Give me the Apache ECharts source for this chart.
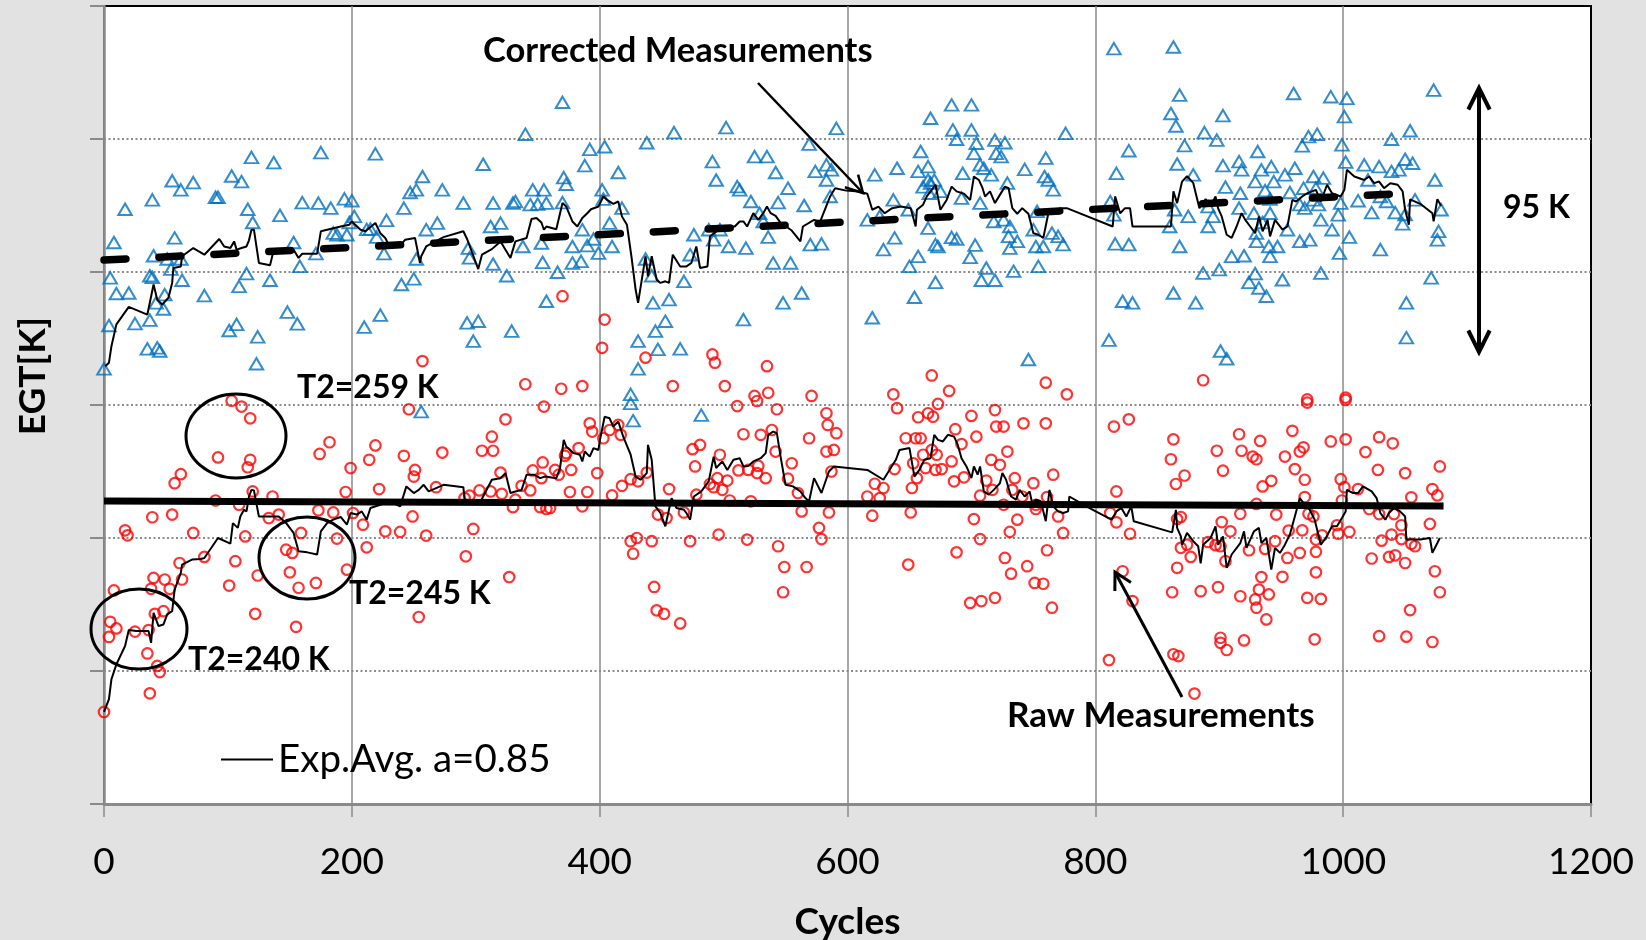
<!DOCTYPE html>
<html>
<head>
<meta charset="utf-8">
<title>EGT vs Cycles</title>
<script src="https://cdn.jsdelivr.net/npm/echarts@6/dist/echarts.min.js"></script>
<style>
  html, body { margin: 0; padding: 0; background: #e2e2e2; }
  #chart { width: 1646px; height: 940px; }
</style>
</head>
<body>
<div id="chart"></div>
<script>
// ---- data: [cycle, EGT in K] ----
const correctedMeas = [
  [8,811.1],[17,823.6],[39,827.1],[55,834.3],[62,830.9],[72,833.6],[57,812.8],[40,806.1],[51,804.9],[62,804.9],[5,797.8],[10,791.9],[20,792.1],[37,798.6],[39,798],[54,801.1],[63,796.9],[49,791.5],[48,786.1],[42,788.4],[4,779.9],[25,780.6],[37,781.9],[35,771.1],[43,771.5],[45,770.3],[0,763.6],[81,791.1],[103,836.1],[111,834],[90,828.1],[92,828.1],[119,843.1],[137,841.1],[116,823.6],[120,818.6],[142,821.3],[153,811.1],[115,799.4],[109,794.6],[134,796.9],[158,802.1],[160,826.1],[173,825.9],[183,824],[175,844.9],[194,827.5],[200,826.8],[202,820.9],[198,818.6],[185,814.6],[188,814],[196,814],[171,806.9],[148,784.9],[156,780.5],[101,778],[107,780.3],[124,775.6],[123,765.5],[210,779.3],[223,783.8],[219,844.4],[212,816],[215,816.1],[220,813.1],[228,819.4],[226,806.9],[242,824],[247,829.9],[252,830.9],[252,804.9],[250,797.4],[240,795.3],
  [257,835.9],[260,815.9],[269,818.4],[273,830.9],[290,825.9],[294,809],[295,805.3],[293,780.9],[302,781.5],[298,774],[306,840.5],[312,817.1],[314,803],[314,825.9],[320,818.4],[325,798.6],[329,777.8],[330,825.9],[332,826.5],[340,851.8],[338,809.6],[344,825.3],[346,830.9],[350,825.5],[353,810.9],[354,803.6],[357,789],[355,830.9],[357,825.9],[366,799.9],[370,863.8],[371,835.5],[373,833],[370,826.1],[378,809.6],[378,803.4],[385,804],[388,840],[392,846.1],[386,815.9],[390,809.9],[395,812.4],[399,807.1],[402,830.9],[404,847.1],[403,827.4],[408,818.4],[410,809.6],[415,837.4],[418,824],[438,848.6],[437,804.9],[443,788.4],[442,798.6],[456,789.6],[453,781.5],[445,777.8],[431,774],[447,770.9],[465,771.1],[431,763.6],[425,754],[460,852.4],[468,796.5],[476,814],[473,806.5],[491,841.5],[494,834.6],[488,815.9],[497,815.9],[492,812.1],[504,809.6],[502,854.3],[518,809],[511,832.1],[513,830.9],[516,782.1],[522,826.5],[525,843.4],[535,843.4],[529,822.1],[532,819],[542,837.4],[540,803.4],[536,813.1],[544,826.1],[548,788.4],[552,831.5],[554,803.4],[563,792.1],[565,825],[569,848.1],[574,837.8],[570,810.3],
  [256,747.5],[425,750.6],[427,744.1],[482,746.2],
  [591,854],[583,840.3],[587,838.4],[583,834.6],[586,828.4],[579,810.6],[622,836.5],[616,819.6],[626,820.9],[620,782.8],[637,827.1],[640,839],[638,812.8],[629,808.4],[649,823.4],[657,837.8],[659,845.3],[665,839.6],[661,832],[665,834.6],[667,833.4],[670,834.6],[666,829.6],[675,830.3],[665,816.5],[657,805.9],[650,802.1],[654,790.5],[671,810.3],[673,809.6],[671,796.1],[667,857.8],[684,862.8],[685,853.4],[688,849.9],[700,862.8],[700,853.4],[704,848.4],[702,844.6],[707,840.3],[710,839],[719,849.6],[727,848.6],[720,844.6],[724,843.4],[716,836.5],[729,833.4],[693,837.1],[692,827.8],[684,813],[688,812.4],[703,810.1],[699,805.5],[707,825.9],[718,819],[726,819.6],[731,817.1],[730,813.4],[737,811.5],[731,809],[712,801.5],[708,796.9],[719,796.9],[734,800.3],[743,838.6],[753,822.8],[760,842.8],[759,835.9],[762,834.6],[766,830.9],[750,815.9],[752,809.6],[758,809.6],[765,814.6],[770,813.4],[774,810.3],[754,802.1],[776,852.1],[746,767.1],[817,837.1],[827,845.6],[812,826.5],[815,821.5],[816,810.6],[827,810.3],[822,789],[830,788.4],[811,774.4],[863,884.6],[815,884],[868,866.5],[861,859.6],[865,854.9],[872,847.5],[866,840.6],[879,836.5],[864,823.4],[875,820.9],[860,817.1],[868,809.6],[863,792.1],[881,788.4],
  [888,852.4],[898,849.6],[903,858.8],[916,841.5],[918,838.4],[903,840],[931,845.3],[934,838.4],[942,839.6],[944,834],[953,836.5],[961,839],[905,831.9],[917,829.6],[929,834],[937,830.6],[941,827.4],[957,829.9],[968,831.5],[976,835.9],[984,835.3],[978,831.5],[972,850.9],[979,851.8],[967,847.4],[960,867.1],[990,865.9],[1003,865.3],[1001,858.4],[999,847.8],[1002,841.3],[891,824.6],[895,820.9],[891,817.1],[916,824],[928,822.1],[935,818.6],[941,822.1],[955,815.9],[965,825.3],[969,824],[976,827.1],[980,825.3],[982,819.6],[991,815.9],[996,821.5],[998,825.9],[1012,826.8],[1017,840.3],[1023,822.3],[1020,834.6],[1029,839.6],[1030,828.4],[1035,826.5],[1039,837.8],[1045,838.4],[1050,842.4],[1056,840.9],[1039,849.9],[1054,853.1],[1042,822.3],[1050,821.6],[1048,818.1],[1058,827.1],[1073,868.4],[1074,834.6],[1079,823.4],[1077,815.3],[1076,812.1],[900,800.9],[910,805.9],[920,806.1],[924,796.1],[929,799.4],[932,794],[938,790.9],[947,809.6],[951,797.1],[930,814.6],[940,809.6],[941,805.9],[930,811.5],[965,811.5],[973,812.1],[997,807.1],[1005,813.1],[982,799.6],[1030,808.4],[1071,797.8],[1051,788.4],[1051,775.3],[901,770.3],[906,767.4],[887,799.6]
];

const rawMeas = [
  [370,790.9],[404,782.1],[402,771.5],[437,767.8],[257,766.5],[340,757.8],[369,756.1],[386,757.1],[459,757.1],[491,769],[493,765.9],[535,764.6],[501,757.1],[525,753.4],[536,754.6],[571,753.4],
  [668,761.1],[682,755.3],[760,758.4],[777,754],[887,759.3],[637,754],[971,752.1],[1002,752.8],
  [0,634.6],[103,751.6],[111,749.4],[118,745],[92,730.3],[118,729.4],[116,726.6],[62,724],[57,720.6],[90,714.1],[109,712.5],[120,717.5],[136,715.6],[39,707.8],[55,708.8],[17,702.9],[19,701],[72,701.9],[114,700.6],[133,707.5],[141,708.8],[61,690.6],[81,692.9],[106,691.3],[124,685.9],[40,685],[49,684.4],[8,680.3],[38,680.9],[53,680.9],[63,684.4],[101,682.1],[147,695.6],[152,694.4],[159,701.9],[150,687.1],[157,681.3],[171,683.1],[188,699.8],[196,688.1],[5,668.5],[10,666],[4,662.8],[25,664.8],[36,665.4],[41,671.5],[48,672.5],[35,656.6],[43,651.9],[45,649.6],[37,641.6],[122,671.5],[155,666.6],[174,731.6],[182,736],[199,726.3],[195,717.3],[173,710.4],[185,709.6],[201,709.4],[209,705],[212,696.5],[214,729.4],[219,734.8],[222,718.4],[227,702.5],[239,702.3],[242,730.9],[250,723.1],[251,725.6],[249,708.1],[246,748.4],[254,670.3],
  [355,749.4],[324,744.6],[313,738.1],[305,732.8],[314,732.8],[273,732.1],[320,724.6],[268,719.1],[303,717.9],[312,717.5],[321,716.6],[291,715],[295,715.9],[332,714.4],[330,711.6],[337,719.6],[344,717.9],[346,725.4],[354,728.4],[353,722.5],[352,711.6],[357,710.9],[360,711.3],[364,725.6],[367,723.8],[372,730.9],[373,731.9],[377,725.6],[383,733.8],[376,717.3],[390,717.3],[386,711.9],[392,743.1],[394,740],[398,724.4],[403,737.5],[408,740.6],[415,742.5],[417,738.8],[410,716],[418,719.6],[425,722.1],[431,721.3],[438,724.6],[425,698.8],[430,700],[427,694.1],[442,698.8],[444,681.6],[446,672.8],[452,671.5],[465,667.9],[456,718.4],[447,708.8],[454,707.5],[468,709.6],[473,698.8],[475,733.4],[481,735],[477,726.9],[478,716.3],[489,720.3],[492,719.1],[497,731.3],[495,722.5],[499,718.1],[503,721.6],[496,701.3],[511,749.6],[527,751.5],[543,748.4],[516,739],[530,738.8],[539,740.6],[542,732.5],[512,725.4],[520,725.6],[527,724.4],[528,727.1],[534,722.5],[522,713.8],[505,714.1],[519,699.4],[544,696.9],[549,689.1],[567,689.1],[548,679.6],[552,722.3],[555,728.1],[560,716.9],[563,710],[569,737.5],[577,703.8],[292,693.1],[298,703.4],[260,700.9],[327,685.3],
  [583,746.9],[584,742.5],[591,739.4],[583,732.5],[589,733.1],[587,725],[585,709.6],[579,699.6],[640,748.8],[673,750.4],[665,746.9],[657,745.4],[669,745.6],[647,737.5],[655,737.5],[659,737.5],[661,731.3],[668,733.1],[672,731.3],[663,726.3],[671,725.6],[676,725.9],[653,728.1],[638,725.9],[656,722.5],[652,718.8],[622,720.4],[629,718.8],[616,715.6],[626,715],[620,708.4],[651,709.6],[649,690],[687,740.9],[692,735.3],[684,728.8],[686,721.3],[694,722.8],[700,745.9],[719,748.1],[720,741.9],[726,741.9],[742,743.1],[760,743.1],[704,738.1],[716,729.4],[723,727.5],[729,732.5],[712,721.6],[717,718.1],[707,715.9],[735,722.5],[733,718.1],[750,720.6],[741,715.6],[766,723.8],[761,715.4],[752,710.9],[770,708.1],[752,712.5],[702,707.1],[726,712.5],[737,706.9],[731,702.3],[707,699.6],[688,694.6],[774,701.9],[761,695.4],[727,692.5],[745,689.4],[732,686.6],[751,683.1],[758,682.8],[765,673.8],[699,675.6],[708,676.3],[719,677.5],[815,741.9],[827,744.6],[817,717.5],[812,709.4],[817,705.9],[828,701.6],[822,687.5],[830,676.3],[811,654.1],[863,737.1],[861,729.6],[872,723.5],[865,720.3],[866,707.1],[869,707.9],[869,696.3],[874,697.5],[877,692.9],[866,688.8],[862,679.6],[885,680],[863,656.3],[867,655.6],[880,641.5],
  [898,732.8],[903,725.3],[916,739],[918,732.8],[927,730.6],[930,729.6],[933,736.5],[953,730.6],[959,740.3],[965,732.5],[968,734.1],[961,725.9],[971,750.9],[990,736.3],[1002,737.1],[1002,751.9],[969,721.9],[935,719.4],[942,721.5],[930,712.8],[917,709.1],[946,708.8],[969,715.4],[972,709.1],[976,708.1],[998,722.1],[1001,719.1],[999,714.1],[1012,718.4],[1018,732.3],[1029,737.9],[1040,735.6],[1028,725.6],[1050,724.4],[1021,710.9],[1029,709],[1041,709],[1055,715.3],[1072,718.4],[1076,716],[1078,726.9],[1047,704.8],[1070,705.3],[902,706],[909,702.5],[891,698.5],[897,697.3],[901,696.9],[905,691.3],[924,695.4],[937,695.9],[945,698.8],[956,702.8],[967,702.9],[955,692.5],[965,694.4],[978,699.4],[983,701],[978,694.8],[995,704.8],[1005,702.3],[996,701.6],[978,687.1],[934,685.3],[951,685.4],[1023,692.3],[1031,699],[1039,701.3],[1047,699.6],[1037,692.9],[1042,693.5],[1050,690.6],[1055,697.8],[1058,696.9],[1074,687.5],[1078,679.6],[1054,672.9],[899,681.5],[917,678.1],[932,680.6],[929,676.9],[930,673.8],[940,678.8],[938,669.4],[971,677.5],[982,677.1],[901,662.5],[901,660.6],[906,657.9],[920,661.5],[977,661.9],[1029,663.1],[1051,662.9],[1072,660.9]
];

// exponential averages (a = 0.85) of the two measurement sets
const correctedAvg = [
  [1,764.6],[4,765.9],[6,772.1],[10,780.3],[20,786.9],[35,784],[40,795.3],[43,789.6],[47,787.8],[52,790.3],[55,795.9],[56,801.5],[62,802.1],[63,805.9],[72,809],[81,806.5],[93,812.4],[97,809.6],[102,809],[105,811.5],[107,808.4],[111,809],[115,809.6],[117,811.9],[119,815.9],[121,815.9],[125,803.4],[134,802.5],[137,808.4],[153,808.4],[157,805.3],[160,806.9],[172,806.9],[175,815.3],[191,817.1],[198,817.8],[200,819],[207,815.9],[211,815.3],[219,818.4],[223,814.6],[227,812.8],[229,810.9],[239,810],[243,812.1],[251,812.8],[255,803.4],[256,805.9],[260,809.6],[274,813.1],[290,815.3],[293,812.4],[302,801.1],[305,806.5],[313,808.6],[320,811.5],[328,805.3],[332,811.5],[341,812.8],[345,819.9],[349,820.3],[353,818.6],[355,815.9],[357,817.1],[365,816.1],[370,825.9],[373,824.6],[378,819],[382,817.1],[386,820.3],[390,822.1],[393,823.6],[399,824.6],[403,828.4],[406,827.1],[411,825.6],[415,826.5],[418,820.9],[422,817.8],[426,804.6],[429,793.4],[431,788.4],[437,805.9],[439,798.4],[442,805.9],[446,797.1],[449,795.9],[453,796.5],[456,795.9],[459,806.5],[465,802.1],[470,802.1],[474,803.4],[478,809.6],[481,801.5],[487,802.1],[489,813.4],[496,815.9],[501,817.1],[509,817.1],[513,819],[516,819],[519,817.1],[524,822.1],[528,819.6],[532,822.1],[535,824.6],[538,822.1],[542,821.1],[547,817.8],[551,816.9],[555,815.6],[562,811.5],
  [564,817.1],[573,819.6],[578,819],[586,828.4],[590,831.5],[599,830.6],[609,830.3],[616,829.4],[620,823.4],[625,824.6],[630,822.1],[636,824],[643,824.6],[651,824],[655,817.1],[656,823.4],[661,825.3],[664,828.4],[668,830.9],[671,832.8],[675,823.4],[680,827.1],[684,832.1],[688,830.3],[694,829.4],[699,827.1],[702,835.9],[706,834.6],[709,831.5],[711,828.4],[715,830.3],[719,825.9],[723,829],[727,832.1],[730,831.5],[733,824],[737,821.9],[741,824],[746,821.9],[750,814.6],[754,814],[758,812.8],[762,821.9],[766,822.1],[772,824],[777,824],[814,817.1],[816,828.4],[820,822.1],[824,824],[828,824],[830,817.1],[861,817.1],[863,830.3],[866,825.9],[870,834],[874,836],[879,833.5],[884,824],
  [889,827.4],[893,824.6],[897,828.4],[899,824],[902,820.9],[906,814],[910,812.8],[914,817.1],[918,822.1],[921,819.6],[925,817.1],[929,814.6],[932,820.9],[935,815.3],[939,819.6],[941,813.4],[945,819.6],[951,815.9],[955,817.1],[959,827.1],[962,826.5],[967,828.4],[971,829.6],[978,830.9],[982,826.5],[987,832.8],[991,829.6],[998,828.4],[1001,830.9],[1003,838.4],[1009,835.9],[1017,834.6],[1021,835.9],[1025,833.4],[1029,834],[1033,831.5],[1038,833.4],[1044,832.8],[1048,830.3],[1050,823.4],[1053,817.8],[1054,827.3],[1063,825.4],[1072,822.1],[1073,819],[1076,827.4],[1079,824.9]
];

const rawAvg = [
  [0,634.6],[4,639.4],[6,646.9],[10,652.5],[17,659.4],[20,665.4],[26,665],[36,665],[38,660.6],[40,671.9],[44,666.9],[48,667.5],[51,671.3],[55,672.5],[57,680.6],[62,686.9],[63,690],[71,691.9],[78,692.1],[81,692.5],[92,700],[102,697.9],[104,705.6],[108,703.8],[110,708.1],[113,710.6],[115,710],[117,715.6],[119,718.1],[121,717.9],[125,708.1],[131,708.1],[141,708.1],[147,705.6],[153,701.9],[157,695],[164,694.6],[172,693.8],[175,702.5],[180,705.6],[185,706.9],[191,707.9],[196,705],[199,709.4],[204,708.8],[208,710],[212,706.9],[215,711.3],[223,712.5],[230,713.8],[239,711.9],[244,719.4],[250,716.9],[254,718.1],[258,720],[262,717.5],[274,720],[290,719.1],[291,714.4],[304,713.8],[313,721.9],[320,722.5],[324,724.4],[328,716.9],[332,717.5],[337,718.1],[341,723.8],[347,723.8],[352,722.5],[356,723.1],[365,722.5],[368,726.3],[371,736.9],[373,734.4],[379,731.9],[384,731.3],[386,728.8],[388,732.5],[392,730.6],[395,733.8],[399,733.1],[400,736.3],[404,745.6],[408,745],[411,741.9],[415,743.8],[419,738.1],[425,731.3],[429,723.1],[433,721.9],[438,724.4],[439,735],[442,729.4],[445,711.9],[449,709.4],[453,704.4],[458,715],[462,711.3],[468,710.6],[470,709.4],[473,706.9],[476,715.6],[482,717.5],[488,721.3],[492,730.6],[494,726.3],[499,728.8],[503,725.6],[508,729.4],[513,730],[516,726.9],[520,727.1],[524,728.8],[530,730],[534,731.9],[536,738.8],[540,740],[543,739.4],[546,730.6],[550,720],[556,719.4],[562,717.5],[566,715],[569,713.8],[573,722.5],[579,716.9],[585,725],[589,726.9],[616,725.6],[629,721.9],[639,729.4],[642,733.1],[650,733.8],[654,723.1],[658,725.6],[662,729.4],[667,730],[670,738.8],[673,736.9],[677,736.3],[681,738.8],[686,738.1],[689,735],[692,730],[696,726.9],[700,722.5],[702,726.9],[705,723.8],[707,726.9],[710,717.5],[714,716.3],[718,718.1],[723,720.6],[725,724.4],[728,721.9],[732,715.6],[736,714.4],[739,718.1],[743,715.6],[747,717.5],[749,713.1],[752,714.4],[756,713.8],[760,706.3],[763,718.1],[766,711.9],[770,710],[774,709.4],[778,710],[779,715.6],[795,711.3],[813,706.9],[817,710],[821,711.3],[825,708.1],[829,711.9],[831,706.3],[862,702.1],[865,710.6],[866,703.8],[869,700.6],[870,697.5],[874,701.9],[879,698.8],[883,696.9],[885,690.5],[887,697.5],[893,700],[897,704.4],[899,697.5],[903,700.6],[906,688.8],[910,693.8],[917,698.1],[920,702.5],[922,696.3],[928,702.5],[932,703.8],[934,698.1],[938,700],[942,688.1],[945,696.3],[949,694.4],[953,697.5],[957,701.3],[961,708.1],[965,715],[969,712.5],[973,710.6],[977,706.9],[982,697.5],[986,700],[991,704.4],[995,704.4],[999,707.5],[1002,710],[1003,718.1],[1008,716.9],[1012,716.9],[1016,719.4],[1023,717.5],[1027,715],[1030,709.4],[1034,706.9],[1037,709.4],[1041,711.3],[1046,710],[1050,708.1],[1051,699.4],[1055,699.4],[1062,699.4],[1070,700],[1072,694.4],[1076,698.1],[1078,700]
];

// linear trends
const correctedTrend = [[0, 804.5], [1060, 829.8]];
const rawTrend = [[0, 713.9], [1081, 712.0]];

const xTicks = { min: 0, max: 1200, step: 200 };
const yTicks = { min: 600, max: 900, step: 50 };
const avgName = 'Exp.Avg. a=0.85';

// ---- chart ----
const chart = echarts.init(document.getElementById('chart'), null, { renderer: 'canvas' });
const FONT = 'Lato';

function arrowHead(tip, from, len, ang) {
  const a = Math.atan2(from[1] - tip[1], from[0] - tip[0]);
  return [
    [tip[0] + len * Math.cos(a + ang), tip[1] + len * Math.sin(a + ang)],
    tip,
    [tip[0] + len * Math.cos(a - ang), tip[1] + len * Math.sin(a - ang)]
  ];
}

function label(text, x, y, size, bold) {
  return {
    type: 'text', z: 100,
    style: {
      text: text, x: x, y: y,
      font: (bold ? 'bold ' : '') + size + 'px ' + FONT,
      fill: '#000',
      align: 'left', textAlign: 'left',
      verticalAlign: 'middle', textVerticalAlign: 'middle'
    }
  };
}

function ellipse(cx, cy, rx, ry) {
  return { type: 'ellipse', z: 100, shape: { cx: cx, cy: cy, rx: rx, ry: ry },
           style: { fill: 'none', stroke: '#000', lineWidth: 3 } };
}

function arrow(from, tip, width, len, ang) {
  return [
    { type: 'line', z: 100, shape: { x1: from[0], y1: from[1], x2: tip[0], y2: tip[1] },
      style: { stroke: '#000', lineWidth: width } },
    { type: 'polyline', z: 100, shape: { points: arrowHead(tip, from, len, ang) },
      style: { stroke: '#000', lineWidth: width, fill: 'none' } }
  ];
}

const dblTop = [1479, 88], dblBot = [1479, 352];

const graphics = [].concat(
  [ellipse(236, 436, 50, 42), ellipse(307, 558, 48, 41), ellipse(139, 629, 48, 40)],
  arrow([758, 83], [863, 193], 2.5, 19, 0.5),
  arrow([1182, 697], [1115, 572], 3, 19, 0.5),
  [{ type: 'line', z: 100, shape: { x1: dblTop[0], y1: dblTop[1], x2: dblBot[0], y2: dblBot[1] },
     style: { stroke: '#000', lineWidth: 4 } },
   { type: 'polyline', z: 100, shape: { points: arrowHead(dblTop, dblBot, 24, 0.46) },
     style: { stroke: '#000', lineWidth: 4, fill: 'none' } },
   { type: 'polyline', z: 100, shape: { points: arrowHead(dblBot, dblTop, 24, 0.46) },
     style: { stroke: '#000', lineWidth: 4, fill: 'none' } }],
  [
    label('Corrected Measurements', 483, 51, 34.5, true),
    label('95 K', 1503, 208, 32, true),
    label('T2=259 K', 297, 388, 32, true),
    label('T2=245 K', 349, 594, 32, true),
    label('T2=240 K', 188, 660, 32, true),
    label('Raw Measurements', 1007, 716, 35, true),
    // vertical axis title
    {
      type: 'text', z: 100, x: 33, y: 376, rotation: Math.PI / 2,
      style: {
        text: 'EGT[K]', x: 0, y: 0, font: 'bold 37px ' + FONT, fill: '#000',
        align: 'center', textAlign: 'center', verticalAlign: 'middle', textVerticalAlign: 'middle'
      }
    }
  ]
);

const option = {
  backgroundColor: '#e2e2e2',
  animation: false,
  grid: {
    left: 104, right: 55, top: 6, bottom: 136,
    outerBoundsMode: 'none', containLabel: false,
    show: true, backgroundColor: '#ffffff', borderColor: '#000', borderWidth: 2
  },
  legend: {
    data: [avgName],
    left: 221, top: 740, padding: 0,
    icon: 'rect', itemWidth: 52, itemHeight: 2,
    textStyle: { fontFamily: FONT, fontSize: 38.5, color: '#000' },
    itemStyle: { color: '#000' }
  },
  xAxis: {
    type: 'value', min: xTicks.min, max: xTicks.max, interval: xTicks.step,
    name: 'Cycles', nameLocation: 'middle', nameGap: 100,
    nameTextStyle: { fontFamily: FONT, fontWeight: 'bold', fontSize: 37, color: '#000' },
    axisLine: { show: true, onZero: false, lineStyle: { color: '#8a8a8a', width: 3 } },
    axisTick: { show: true, length: 13, lineStyle: { color: '#8a8a8a', width: 1.5 } },
    axisLabel: { fontFamily: FONT, fontSize: 37, color: '#000', margin: 40,
                 formatter: function (v) { return String(v); } },
    splitLine: { show: true, showMaxLine: false, lineStyle: { color: '#8a8a8a', width: 1.5 } }
  },
  yAxis: {
    type: 'value', min: yTicks.min, max: yTicks.max, interval: yTicks.step,
    axisLine: { show: true, onZero: false, lineStyle: { color: '#8a8a8a', width: 2.5 } },
    axisTick: { show: true, length: 14, lineStyle: { color: '#8a8a8a', width: 2 } },
    axisLabel: { show: false },
    splitLine: { show: true, showMaxLine: false, lineStyle: { color: '#8c8c8c', width: 2, type: [2, 2.5] } }
  },
  series: [
    {
      name: 'Corrected Measurements', type: 'scatter', data: correctedMeas,
      symbol: 'triangle', symbolSize: [13.5, 11.5],
      itemStyle: { color: 'rgba(0,0,0,0)', borderColor: '#0070c0', borderWidth: 2 },
      emphasis: { disabled: true }
    },
    {
      name: 'Raw Measurements', type: 'scatter', data: rawMeas,
      symbol: 'circle', symbolSize: 10.5,
      itemStyle: { color: 'rgba(0,0,0,0)', borderColor: '#ff0000', borderWidth: 2.2 },
      emphasis: { disabled: true }
    },
    {
      name: avgName, type: 'line', data: correctedAvg, symbol: 'none', showSymbol: false,
      lineStyle: { color: '#000', width: 2 }, itemStyle: { color: '#000' }
    },
    {
      name: avgName, type: 'line', data: rawAvg, symbol: 'none', showSymbol: false,
      lineStyle: { color: '#000', width: 2 }, itemStyle: { color: '#000' }
    },
    {
      name: 'Corrected trend', type: 'line', data: correctedTrend, symbol: 'none',
      lineStyle: { color: '#000', width: 7.5, type: [22, 33], cap: 'round' }
    },
    {
      name: 'Raw trend', type: 'line', data: rawTrend, symbol: 'none',
      lineStyle: { color: '#000', width: 7 }
    }
  ],
  graphic: graphics
};

chart.setOption(option);
</script>
</body>
</html>
